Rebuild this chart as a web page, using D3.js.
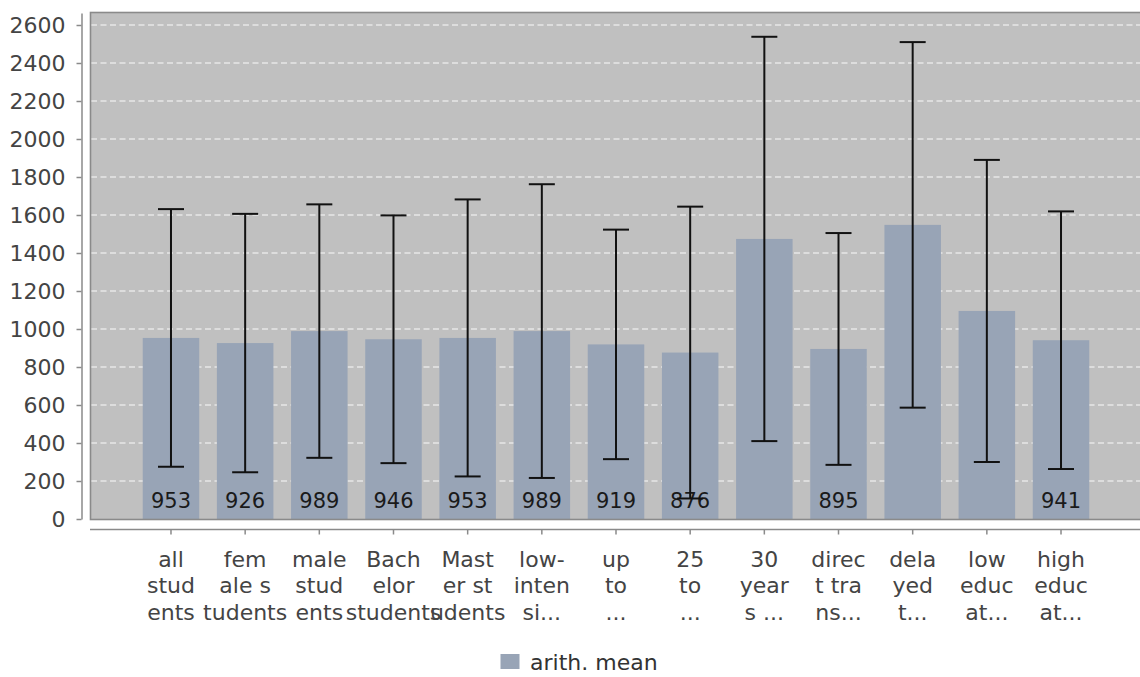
<!DOCTYPE html>
<html>
<head>
<meta charset="utf-8">
<script src="https://cdn.jsdelivr.net/npm/d3@7"></script>
<style>
  html, body { margin: 0; padding: 0; background: #ffffff; }
  svg { display: block; }
  text { font-family: "DejaVu Sans", sans-serif; }
</style>
</head>
<body>
<svg id="chart" width="1140" height="677"></svg>
<script>
// ---- data ----
const categories = ["all students", "female students", "male students", "Bachelor students",
  "Master students", "low-intensi...", "up to ...", "25 to ...", "30 years ...",
  "direct trans...", "delayed t...", "low educat...", "high educat..."];
const tickLabelLines = [
  ["all", "stud", "ents"], ["fem", "ale s", "tudents"], ["male", "stud", "ents"],
  ["Bach", "elor", "students"], ["Mast", "er st", "udents"], ["low-", "inten", "si..."],
  ["up", "to", "..."], ["25", "to", "..."], ["30", "year", "s ..."],
  ["direc", "t tra", "ns..."], ["dela", "yed", "t..."], ["low", "educ", "at..."],
  ["high", "educ", "at..."]
];
const means = [953, 926, 989, 946, 953, 989, 919, 876, 1474, 895, 1548, 1095, 941];
const stdDevs = [678, 680, 667, 652, 729, 773, 604, 768, 1064, 610, 962, 795, 678];
const valueLabels = ["953", "926", "989", "946", "953", "989", "919", "876", null, "895", null, null, "941"];
const yTicks = [0, 200, 400, 600, 800, 1000, 1200, 1400, 1600, 1800, 2000, 2200, 2400, 2600];
const seriesName = "arith. mean";

// ---- layout ----
const svg = d3.select("#chart");
const plot = { left: 91, top: 13, right: 1141, bottom: 519 };
const barColor = "#98a4b6";

const x = d3.scaleBand()
  .domain(categories)
  .range([133.9, 1098.1])
  .paddingInner(0.238)
  .paddingOuter(0.119);

const y = d3.scaleLinear()
  .domain([0, (plot.bottom - plot.top) / 0.19])
  .range([plot.bottom, plot.top]);

// plot background
svg.append("rect")
  .attr("x", plot.left).attr("y", plot.top)
  .attr("width", plot.right - plot.left).attr("height", plot.bottom - plot.top)
  .attr("fill", "#c0c0c0");

// gridlines
svg.append("g").selectAll("line")
  .data(yTicks.filter(d => d > 0))
  .join("line")
  .attr("x1", plot.left).attr("x2", plot.right)
  .attr("y1", d => y(d)).attr("y2", d => y(d))
  .attr("stroke", "#e6e6e6")
  .attr("stroke-width", 1.4)
  .attr("stroke-dasharray", "6,3.5");

// bars
svg.append("g").selectAll("rect")
  .data(categories)
  .join("rect")
  .attr("x", d => x(d))
  .attr("width", x.bandwidth())
  .attr("y", (d, i) => y(means[i]))
  .attr("height", (d, i) => y(0) - y(means[i]))
  .attr("fill", barColor);

// value labels
svg.append("g").selectAll("text")
  .data(categories.filter((d, i) => valueLabels[i] !== null))
  .join("text")
  .attr("x", d => x(d) + x.bandwidth() / 2)
  .attr("y", y(0) - 11)
  .attr("text-anchor", "middle")
  .attr("font-size", 21)
  .attr("fill", "#1a1a1a")
  .text(d => valueLabels[categories.indexOf(d)]);

// error bars
const capW = 26;
const eg = svg.append("g").attr("stroke", "#111").attr("stroke-width", 2).attr("fill", "none");
categories.forEach((c, i) => {
  const cx = x(c) + x.bandwidth() / 2;
  const lo = means[i] - stdDevs[i], hi = means[i] + stdDevs[i];
  eg.append("line").attr("x1", cx).attr("x2", cx).attr("y1", y(lo)).attr("y2", y(hi));
  eg.append("line").attr("x1", cx - capW / 2).attr("x2", cx + capW / 2).attr("y1", y(hi)).attr("y2", y(hi));
  eg.append("line").attr("x1", cx - capW / 2).attr("x2", cx + capW / 2).attr("y1", y(lo)).attr("y2", y(lo));
});

// plot border
svg.append("rect")
  .attr("x", plot.left - 0.5).attr("y", plot.top - 0.5)
  .attr("width", plot.right - plot.left + 1).attr("height", plot.bottom - plot.top + 1)
  .attr("fill", "none")
  .attr("stroke", "#8a8a8a")
  .attr("stroke-width", 1.6);

// y axis
const yAxis = svg.append("g")
  .attr("transform", "translate(81.5,0)")
  .call(d3.axisLeft(y).tickValues(yTicks).tickSize(5).tickSizeOuter(0).tickPadding(11).tickFormat(d3.format("d")));
yAxis.select(".domain").attr("stroke", "#8a8a8a").attr("stroke-width", 1.5);
yAxis.selectAll(".tick line").attr("stroke", "#8a8a8a").attr("stroke-width", 1.5);
yAxis.selectAll(".tick text")
  .attr("font-size", 22)
  .attr("font-family", "DejaVu Sans")
  .attr("fill", "#444")
  .attr("dy", "0.35em");

// x axis
const xAxis = svg.append("g")
  .attr("transform", "translate(0,529.5)")
  .call(d3.axisBottom(x).tickSize(5).tickSizeOuter(0).tickFormat(""));
xAxis.select(".domain").attr("d", `M${plot.left - 1},0H${plot.right}`)
  .attr("stroke", "#8a8a8a").attr("stroke-width", 1.5);
xAxis.selectAll(".tick line").attr("stroke", "#8a8a8a").attr("stroke-width", 1.5);
xAxis.selectAll(".tick text").remove();
xAxis.selectAll(".tick").append("text")
  .attr("text-anchor", "middle")
  .attr("font-size", 22)
  .attr("font-family", "DejaVu Sans")
  .attr("fill", "#444")
  .each(function (d) {
    const lines = tickLabelLines[categories.indexOf(d)];
    const t = d3.select(this);
    lines.forEach((ln, j) => {
      t.append("tspan").attr("x", 0).attr("y", 37 + j * 26.5).text(ln);
    });
  });

// legend
const lg = svg.append("g");
lg.append("rect").attr("x", 500.5).attr("y", 654).attr("width", 19).attr("height", 15).attr("fill", barColor);
lg.append("text").attr("x", 530).attr("y", 670)
  .attr("font-size", 22).attr("fill", "#333").text(seriesName);
</script>
</body>
</html>
